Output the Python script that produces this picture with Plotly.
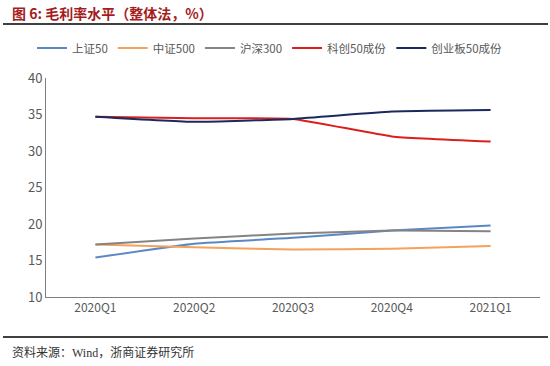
import plotly.graph_objects as go

categories = ["2020Q1", "2020Q2", "2020Q3", "2020Q4", "2021Q1"]
sz50 = [15.4, 17.3, 18.1, 19.1, 19.8]
zz500 = [17.2, 16.8, 16.5, 16.6, 17.0]
hs300 = [17.2, 18.0, 18.7, 19.1, 19.0]
kc50 = [34.7, 34.5, 34.4, 32.0, 31.3]
cyb50 = [34.7, 34.0, 34.4, 35.4, 35.6]

series = [
    ("上证50", sz50, "#5B87C5"),
    ("中证500", zz500, "#F4A25C"),
    ("沪深300", hs300, "#848484"),
    ("科创50成份", kc50, "#D9201F"),
    ("创业板50成份", cyb50, "#1B2A5E"),
]

CJK = "Noto Sans CJK SC, Arial, sans-serif"
PH = 219.0  # plot height px (78..297 on screen)
PW = 494.0  # plot width px (46..540 on screen)

def py(screen_y):
    return 1 + (78 - screen_y) / PH

def px(screen_x):
    return (screen_x - 46) / PW

fig = go.Figure()
for name, vals, color in series:
    fig.add_trace(go.Scatter(
        x=categories, y=vals, name=name, mode="lines",
        line=dict(color=color, width=2, shape="spline", smoothing=0.4),
    ))

fig.update_layout(
    width=550, height=366,
    margin=dict(l=46, r=10, t=78, b=69, autoexpand=False),
    paper_bgcolor="white", plot_bgcolor="white",
    font=dict(family=CJK, size=12, color="#595959"),
    showlegend=True,
    legend=dict(orientation="h", x=px(270), xanchor="center", y=py(48), yanchor="middle",
                font=dict(size=11.5, color="#595959"), itemwidth=30),
    xaxis=dict(showline=True, linecolor="#7F7F7F", linewidth=1, showgrid=False,
               range=[-0.5, 4.5], ticks="", tickfont=dict(size=12, color="#595959"),
               zeroline=False),
    yaxis=dict(range=[10, 40], dtick=5, showline=True, linecolor="#7F7F7F", linewidth=1,
               showgrid=False, ticks="", tickfont=dict(size=13, color="#595959"),
               zeroline=False),
)

fig.add_annotation(text="<b>图 6: 毛利率水平（整体法，%）</b>", xref="paper", yref="paper",
                   x=px(10), y=py(13), yanchor="middle", xanchor="left", showarrow=False,
                   font=dict(family=CJK, size=14, color="#A51C1C"))

fig.add_shape(type="line", xref="paper", yref="paper", x0=px(3), x1=px(548),
              y0=py(24), y1=py(24), line=dict(color="#404040", width=2))
fig.add_shape(type="line", xref="paper", yref="paper", x0=px(3), x1=px(548),
              y0=py(337), y1=py(337), line=dict(color="#404040", width=2))
fig.add_annotation(text="资料来源：Wind，浙商证券研究所", xref="paper", yref="paper",
                   x=px(10), y=py(352), xanchor="left", yanchor="middle", showarrow=False,
                   font=dict(family="Liberation Serif, Noto Sans CJK SC", size=12, color="#333333"))

# remove the page's default 8px body margin so the figure fills the window exactly
fig.write_html("out.html", config={"displayModeBar": False},
               post_script="document.body.style.margin='0';")
